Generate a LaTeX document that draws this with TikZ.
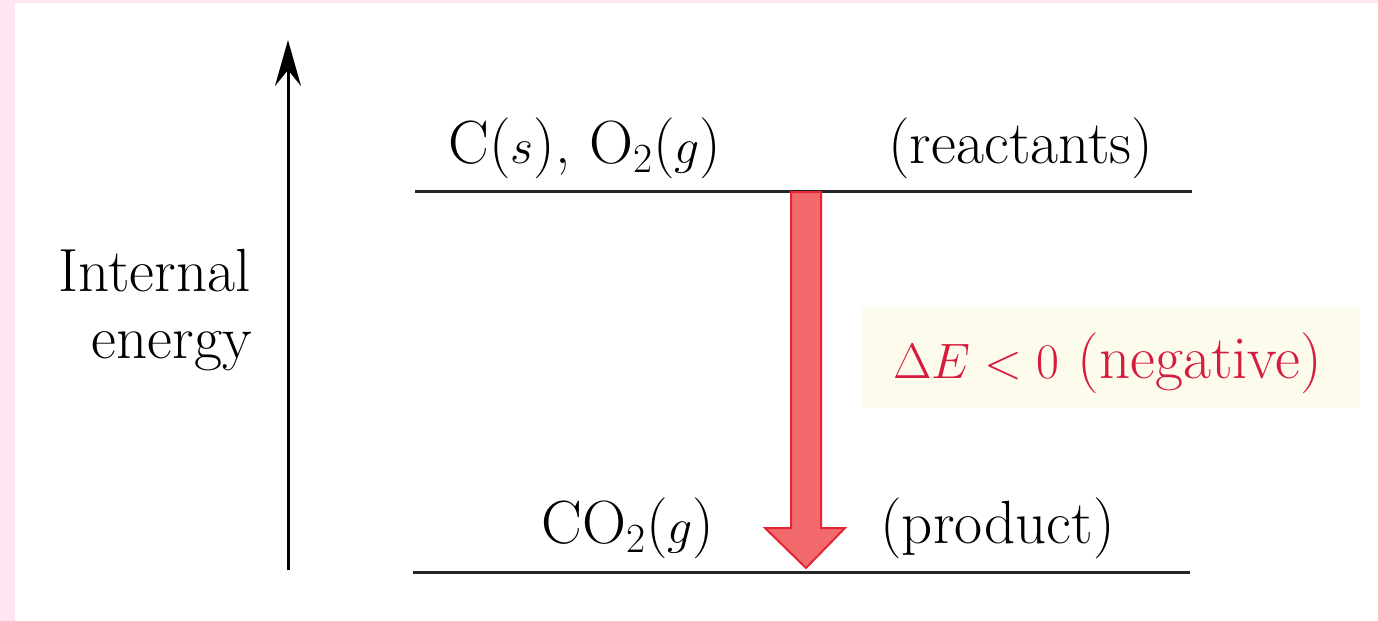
\documentclass[tikz,border=0pt]{standalone}
\usetikzlibrary{arrows.meta,calc}
\definecolor{pinkedge}{RGB}{253,230,242}
\definecolor{labelbg}{RGB}{252,251,236}
\definecolor{redtext}{RGB}{214,28,60}
\definecolor{arrowfill}{RGB}{242,106,108}
\definecolor{arrowedge}{RGB}{226,38,54}
\tikzset{
  lbl/.style={inner sep=0pt, font=\fontsize{30.5}{36}\selectfont},
  level/.style={line width=1.5pt, black!85},
}
\begin{document}
\begin{tikzpicture}[x=0.5pt,y=-0.5pt]
\useasboundingbox (0,0) rectangle (1378,621);
\fill[white] (0,0) rectangle (1378,621);
\fill[pinkedge] (0,0) rectangle (15,621);
\fill[pinkedge] (0,0) rectangle (1378,2.5);
% axis
\coordinate (axbot) at (288,570);
\coordinate (axtop) at (288,40);
\draw[line width=1.5pt, -{Stealth[length=23pt,width=13pt,inset=8pt]}] (axbot) -- (axtop);
\node[lbl, anchor=base east] (internal) at (251,291) {Internal};
\node[lbl, anchor=base east] (energy) at (252,358) {energy};
% levels
\coordinate (topL) at (415,191);
\coordinate (topR) at (1192,191);
\coordinate (botL) at (413,572);
\coordinate (botR) at (1190,572);
\draw[level] (topL) -- (topR);
\draw[level] (botL) -- (botR);
\node[lbl, anchor=base] (react) at (585,163) {C($s$), O$_2$($g$)};
\node[lbl, anchor=base west] (reactlbl) at (888,163) {(reactants)};
\node[lbl, anchor=base] (prod) at (628,543) {CO$_2$($g$)};
\node[lbl, anchor=base west] (prodlbl) at (880,543) {(product)};
% label box
\fill[labelbg] (862,308) rectangle (1360,408);
\node[lbl, anchor=base west, text=redtext] (dE) at (893,378) {$\Delta E < 0$ (negative)};
% red arrow
\coordinate (rtop) at (806,192);
\coordinate (rtip) at (806,568);
\filldraw[fill=arrowfill, draw=arrowedge, line width=1pt, line join=miter]
  ($(rtop)+(-15,0)$) -- ($(rtop)+(15,0)$) -- ($(rtip)+(15,-40)$)
  -- ($(rtip)+(39,-40)$) -- (rtip) -- ($(rtip)+(-41,-40)$)
  -- ($(rtip)+(-15,-40)$) -- cycle;
\end{tikzpicture}
\end{document}
